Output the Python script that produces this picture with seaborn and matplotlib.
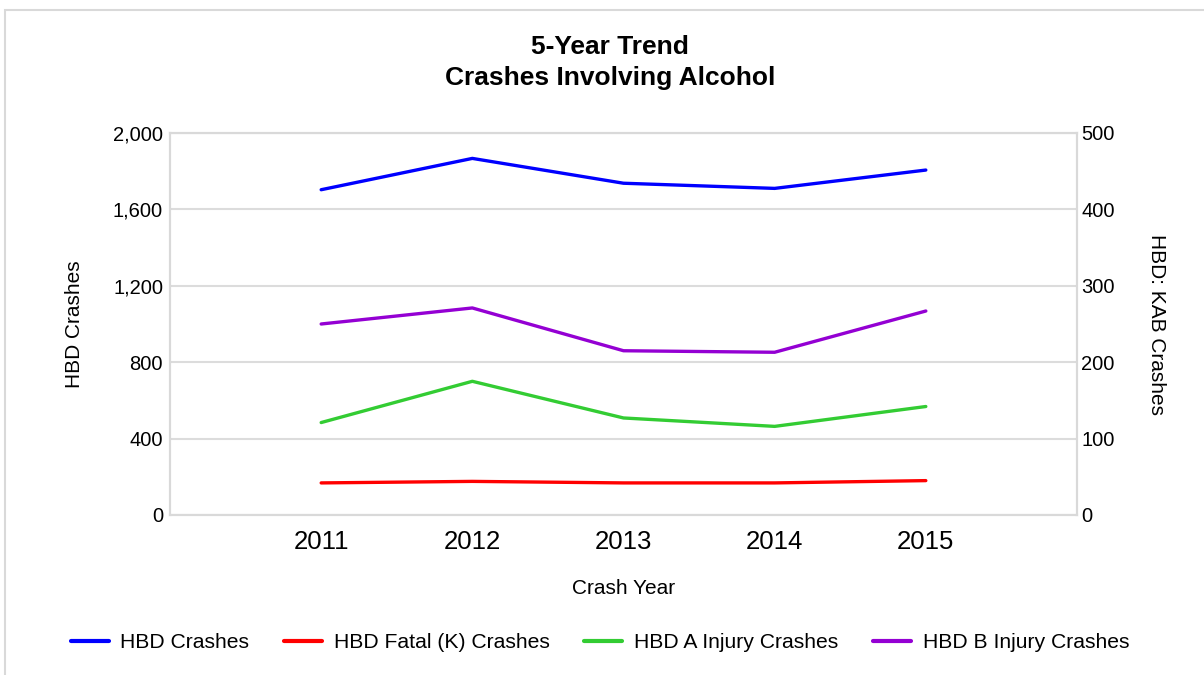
import numpy as np
import pandas as pd
import matplotlib
matplotlib.use("Agg")
import matplotlib.pyplot as plt
import seaborn as sns
from matplotlib.ticker import FuncFormatter, FixedLocator
from matplotlib.lines import Line2D
from matplotlib.patches import Rectangle

years = [2011, 2012, 2013, 2014, 2015]
hbd_crashes = [1703, 1867, 1737, 1710, 1806]
fatal_k = [42, 44, 42, 42, 45]
a_injury = [121, 175, 127, 116, 142]
b_injury = [250, 271, 215, 213, 267]

title_lines = ["5-Year Trend", "Crashes Involving Alcohol"]
left_label = "HBD Crashes"
right_label = "HBD: KAB Crashes"
x_label = "Crash Year"
series_names = ["HBD Crashes", "HBD Fatal (K) Crashes", "HBD A Injury Crashes", "HBD B Injury Crashes"]
colors = ["#0000ff", "#ff0000", "#33cc33", "#9400d3"]

sns.set_theme(style="white")
plt.rcParams['font.family'] = ['Liberation Sans', 'DejaVu Sans']
plt.rcParams['text.color'] = 'black'

W, H = 1204, 675
fig = plt.figure(figsize=(W / 100, H / 100), dpi=100)
ax = fig.add_axes([170 / W, 1 - 515 / H, (1077 - 170) / W, (515 - 133) / H])
ax2 = ax.twinx()

# outer frame
fig.patches.append(Rectangle((5 / W, -0.1), 1.2, 1 - 10 / H + 0.1, transform=fig.transFigure,
                             fill=False, edgecolor="#d9d9d9", linewidth=1.5, zorder=0))

left_df = pd.DataFrame({"year": years, "value": hbd_crashes, "series": series_names[0]})
right_df = pd.concat([
    pd.DataFrame({"year": years, "value": fatal_k, "series": series_names[1]}),
    pd.DataFrame({"year": years, "value": a_injury, "series": series_names[2]}),
    pd.DataFrame({"year": years, "value": b_injury, "series": series_names[3]}),
])

sns.lineplot(data=left_df, x="year", y="value", hue="series", palette=[colors[0]],
             ax=ax, linewidth=2.4, legend=False, zorder=5)
sns.lineplot(data=right_df, x="year", y="value", hue="series",
             palette=dict(zip(series_names[1:], colors[1:])),
             ax=ax2, linewidth=2.4, legend=False, zorder=5)

ax.set_xlim(2010, 2016)
ax.set_ylim(0, 2000)
ax2.set_ylim(0, 500)
ax.xaxis.set_major_locator(FixedLocator(years))
ax.set_xticklabels([str(y) for y in years])
ax.yaxis.set_major_locator(FixedLocator(np.arange(0, 2001, 400)))
ax.yaxis.set_major_formatter(FuncFormatter(lambda v, p: f"{int(v):,}"))
ax2.yaxis.set_major_locator(FixedLocator(np.arange(0, 501, 100)))

ax.grid(axis="y", color="#dcdcdc", linewidth=1.5)
ax.grid(axis="x", visible=False)
ax2.grid(False)
for a in (ax, ax2):
    for s in a.spines.values():
        s.set_color("#d9d9d9")
        s.set_linewidth(1.5)

ax.tick_params(axis="x", length=0, pad=11, labelsize=18.5, colors="black")
ax.tick_params(axis="y", length=0, pad=5, labelsize=14.5, colors="black")
ax2.tick_params(axis="y", length=0, pad=3, labelsize=14.5, colors="black")

ax.set_xlabel(x_label, fontsize=15, labelpad=18, color="black")
ax.set_ylabel(left_label, fontsize=15, labelpad=21, color="black")
ax2.set_ylabel(right_label, fontsize=15, rotation=270, labelpad=37, color="black")

fig.text(610 / W, 1 - 47 / H, title_lines[0], ha="center", va="center",
         fontsize=19, fontweight="bold", color="black")
fig.text(610 / W, 1 - 78 / H, title_lines[1], ha="center", va="center",
         fontsize=19, fontweight="bold", color="black")

handles = [Line2D([], [], color=c, linewidth=3) for c in colors]
fig.legend(handles, series_names, loc="center", bbox_to_anchor=(600 / W, 1 - 643 / H),
           ncol=4, frameon=False, fontsize=15.2, handlelength=1.8, handletextpad=0.55,
           columnspacing=1.65, labelcolor="black")

fig.savefig("out.png", dpi=100)
